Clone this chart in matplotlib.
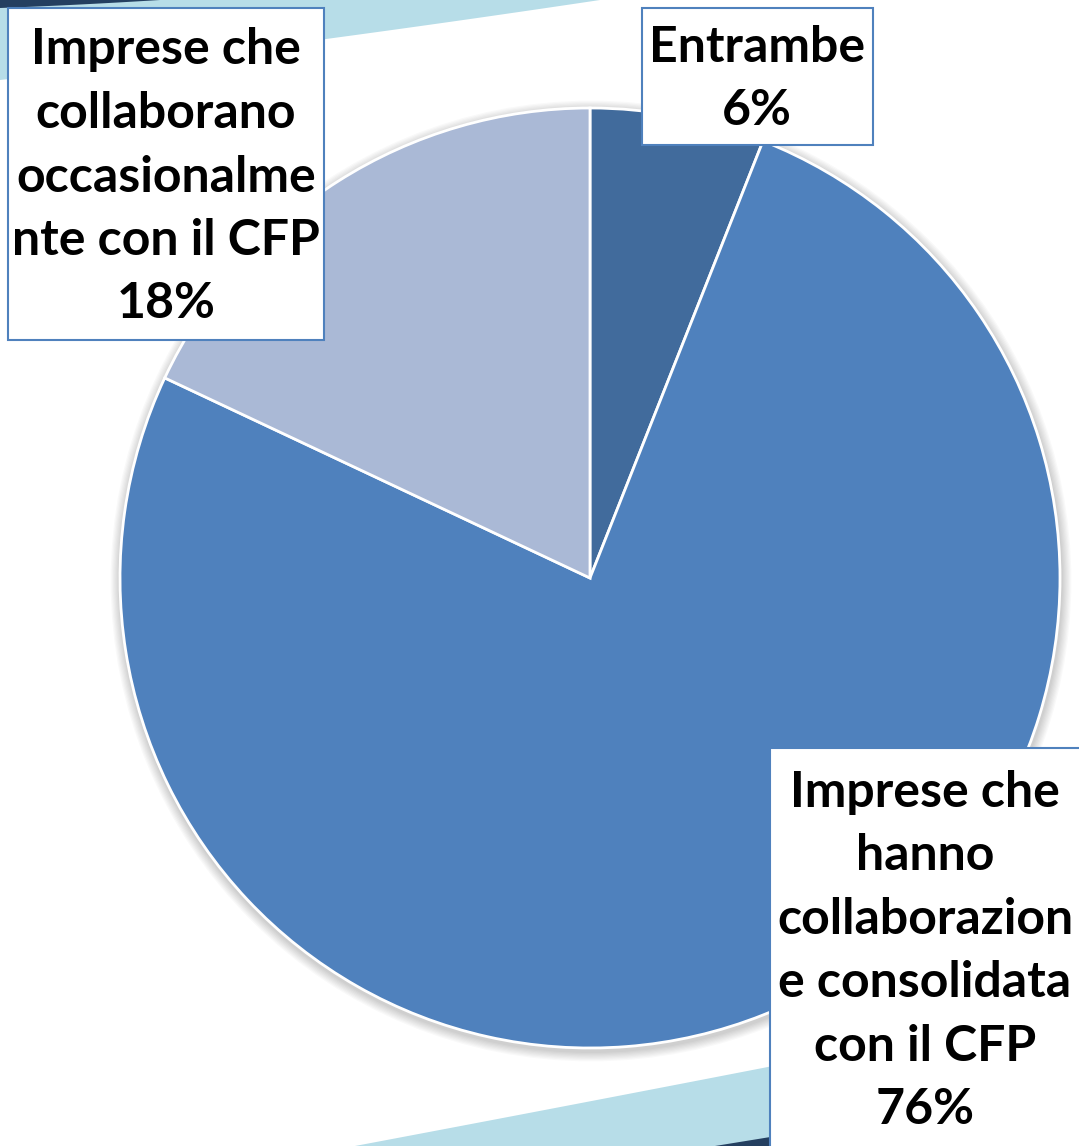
import numpy as np
import matplotlib
matplotlib.use("Agg")
import matplotlib.pyplot as plt
from matplotlib.patches import Polygon, Circle, Rectangle

# ── data ──
labels = [
    "Entrambe",
    "Imprese che\nhanno\ncollaborazion\ne consolidata\ncon il CFP",
    "Imprese che\ncollaborano\noccasionalme\nnte con il CFP",
]
shares = [6, 76, 18]
colors = ["#416B9C", "#4F81BD", "#AAB9D6"]

# ── canvas in pixel units (y up) ──
W, H = 1079, 1146
fig = plt.figure(figsize=(W / 100, H / 100), dpi=100)
ax = fig.add_axes([0, 0, 1, 1])

LIGHT = "#B7DDE8"
NAVY = "#243F60"
EDGE = "#4F81BD"


def curve(p0, p1, p2, n=60):
    t = np.linspace(0, 1, n)[:, None]
    return (1 - t) ** 2 * np.array(p0) + 2 * (1 - t) * t * np.array(p1) + t ** 2 * np.array(p2)


# top swoosh
top_edge = curve((0, H - 80), (300, H - 45), (600, H))
ax.add_patch(Polygon(np.vstack([[[0, H]], top_edge]), closed=True, fc=LIGHT, ec="none", zorder=0))
nav_edge = curve((0, H - 8), (80, H - 5), (160, H))
ax.add_patch(Polygon(np.vstack([[[0, H]], nav_edge]), closed=True, fc=NAVY, ec="none", zorder=0))

# bottom swoosh
bot_edge = curve((355, 0), (700, 65), (1079, 140))
ax.add_patch(Polygon(np.vstack([bot_edge, [[W, 0]]]), closed=True, fc=LIGHT, ec="none", zorder=0))
nav2 = curve((715, 0), (900, 30), (1079, 60))
ax.add_patch(Polygon(np.vstack([nav2, [[W, 0]]]), closed=True, fc=NAVY, ec="none", zorder=0))

# ── pie ──
cx, cy, R = 590, H - 578, 470
for k in range(8):
    ax.add_patch(Circle((cx + 1, cy - 3), R + 2 + k * 1.2, fc="#000000", alpha=0.025, ec="none", zorder=1))
ax.pie(shares, colors=colors, startangle=90, counterclock=False,
       center=(cx, cy), radius=R,
       wedgeprops=dict(edgecolor="white", linewidth=2, zorder=2))

# ── label boxes ──
FONT = dict(family="Lato", weight="bold", fontsize=36, color="black",
            ha="center", va="center", linespacing=1.5)


def box(x0, y0, x1, y1, text, tx, ty):
    ax.add_patch(Rectangle((x0, H - y1), x1 - x0, y1 - y0, fc="white", ec=EDGE, lw=1.5, zorder=5))
    t = ax.text(tx, H - ty, text, zorder=6, **FONT)
    t.set_path_effects([])


box(642, 8, 873, 145, f"{labels[0]}\n{shares[0]}%", 757, 79)
box(8, 8, 324, 340, f"{labels[2]}\n{shares[2]}%", 166, 177)
box(770, 748, 1090, 1160, f"{labels[1]}\n{shares[1]}%", 925, 951)

ax.set_xlim(0, W)
ax.set_ylim(0, H)
ax.set_aspect("equal")
ax.axis("off")
fig.savefig("out.png", dpi=100, facecolor="white")
